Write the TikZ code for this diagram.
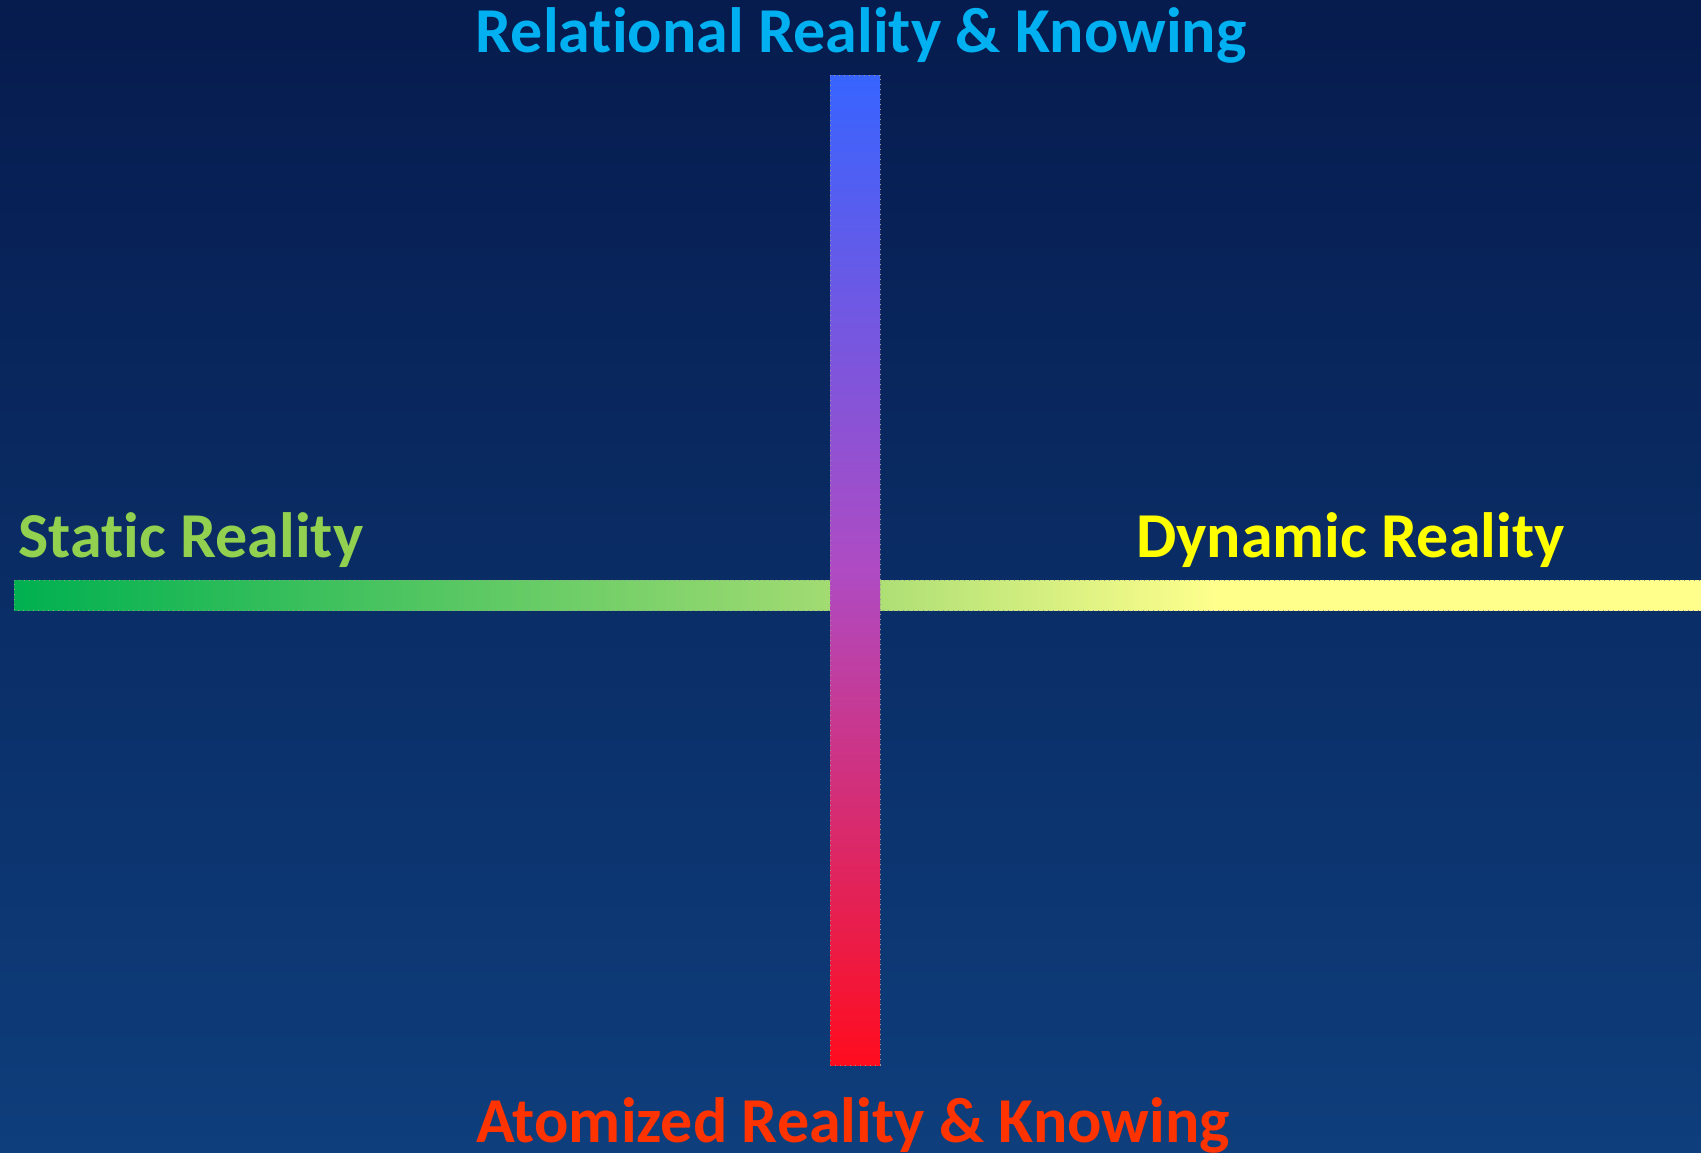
\documentclass[tikz,border=0pt]{standalone}
\usepackage{fontspec}
\setmainfont{Carlito}[Ligatures={NoCommon}]
\definecolor{bgtop}{RGB}{6,27,78}
\definecolor{bgbot}{RGB}{14,62,124}
\definecolor{tblue}{RGB}{0,176,240}
\definecolor{tgreen}{RGB}{146,208,80}
\definecolor{tyellow}{RGB}{255,255,0}
\definecolor{tred}{RGB}{255,51,0}
\definecolor{hA}{RGB}{0,176,80}
\definecolor{hB}{RGB}{165,220,115}
\definecolor{hC}{RGB}{255,255,140}
\definecolor{vA}{RGB}{55,100,255}
\definecolor{vB}{RGB}{175,75,195}
\definecolor{vC}{RGB}{255,12,30}
\pgfdeclarehorizontalshading{hbar}{100bp}{color(0bp)=(hA); color(25bp)=(hA); color(49.5bp)=(hB); color(60.5bp)=(hC); color(75bp)=(hC); color(100bp)=(hC)}
\pgfdeclareverticalshading{vbar}{100bp}{color(0bp)=(vC); color(25bp)=(vC); color(50bp)=(vB); color(75bp)=(vA); color(100bp)=(vA)}
\tikzset{
  lbl/.style={font=\fontsize{32pt}{37pt}\selectfont\bfseries, inner sep=0pt},
  barborder/.style={draw=gray!80, dotted, line width=0.5pt}
}
\begin{document}
\begin{tikzpicture}[x=0.5pt,y=-0.5pt]
\useasboundingbox (0,0) rectangle (1701,1152);
\shade[top color=bgtop, bottom color=bgbot] (0,0) rectangle (1701,1152);
% horizontal bar
\shade[shading=hbar] (14,580) rectangle (1710,610);
\draw[barborder] (1710,580) -- (14,580) -- (14,610) -- (1710,610);
% vertical bar
\shade[shading=vbar] (830,75) rectangle (880,1065);
\draw[barborder] (830,75) rectangle (880,1065);
% labels
\node[lbl, text=tblue, anchor=base] (top) at (861,52) {Relational Reality \& Knowing};
\node[lbl, text=tred, anchor=base] (bottom) at (853,1142) {Atomized Reality \& Knowing};
\node[lbl, text=tgreen, anchor=base west] (static) at (18,557) {Static Reality};
\node[lbl, text=tyellow, anchor=base east] (dynamic) at (1565,557) {Dynamic Reality};
\end{tikzpicture}
\end{document}
